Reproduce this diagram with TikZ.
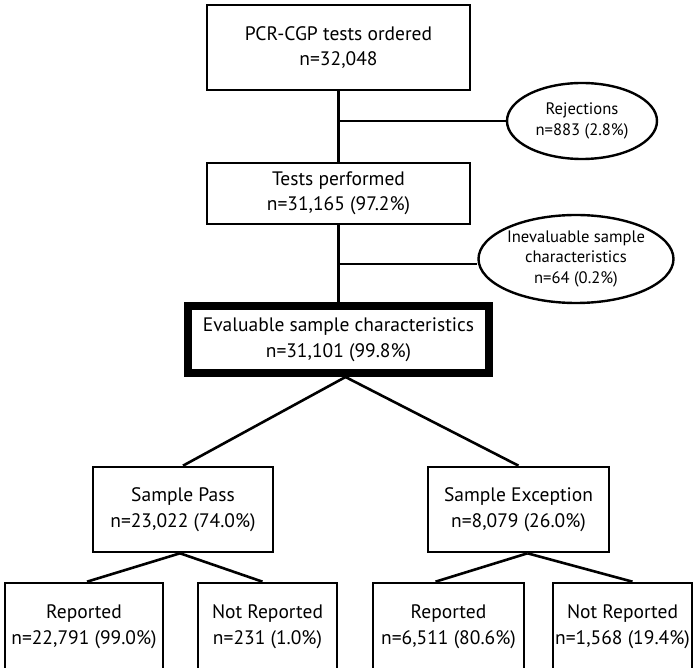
\documentclass[tikz,border=0pt]{standalone}
\usepackage{fontspec}
\setmainfont{PT Sans}
\usetikzlibrary{shapes.geometric,calc}
\begin{document}
\begin{tikzpicture}[x=1pt,y=-1pt,
  box/.style={draw,line width=2.6pt,rectangle,inner sep=0pt,align=center,
    font=\fontsize{19.5}{25.5}\selectfont},
  oval/.style={draw,line width=2.4pt,ellipse,inner sep=0pt,align=center,
    font=\fontsize{16.6}{20.5}\selectfont},
  link/.style={line width=2.6pt}]
\useasboundingbox (0,0) rectangle (697,668);
\node[box,minimum width=263pt,minimum height=85pt] (b1) at (338.5,47.5)
  {PCR-CGP tests ordered\\n=32,048};
\node[box,minimum width=263pt,minimum height=61pt] (b2) at (338.5,193.5)
  {Tests performed\\n=31,165 (97.2\%)};
\node[box,line width=8pt,minimum width=301pt,minimum height=67pt] (b3) at (338.5,339.5)
  {Evaluable sample characteristics\\n=31,101 (99.8\%)};
\node[oval,minimum width=150pt,minimum height=76pt] (rej) at (582,121)
  {Rejections\\n=883 (2.8\%)};
\node[oval,minimum width=182pt,minimum height=88pt] (inev) at (576,259)
  {Inevaluable sample\\characteristics\\n=64 (0.2\%)};
\node[box,minimum width=180pt,minimum height=85pt] (sp) at (183,509.5)
  {Sample Pass\\n=23,022 (74.0\%)};
\node[box,minimum width=181pt,minimum height=85pt] (se) at (518.5,509.5)
  {Sample Exception\\n=8,079 (26.0\%)};
\node[box,minimum width=158pt,minimum height=87pt] (r1) at (84,626.5)
  {Reported\\n=22,791 (99.0\%)};
\node[box,minimum width=139pt,minimum height=87pt] (nr1) at (267.5,626.5)
  {Not Reported\\n=231 (1.0\%)};
\node[box,minimum width=151pt,minimum height=87pt] (r2) at (448.5,626.5)
  {Reported\\n=6,511 (80.6\%)};
\node[box,minimum width=139pt,minimum height=87pt] (nr2) at (622.5,626.5)
  {Not Reported\\n=1,568 (19.4\%)};
\draw[link] (b1.south) -- (b2.north);
\draw[link] (b2.south) -- (b3.north);
\draw[link] (b1.south |- rej.west) -- (rej.west);
\coordinate (ij) at ($(inev.west)+(0,5)$);
\draw[link] (b2.south |- ij) -- (ij);
\coordinate (b3o) at ($(b3.south)+(7,0)$);
\draw[link] (b3o) -- (sp.north);
\draw[link] (b3o) -- (se.north);
\draw[link] ($(sp.south)+(-3,0)$) -- ($(r1.north)+(3,0)$);
\draw[link] ($(sp.south)+(-3,0)$) -- ($(nr1.north)+(-5,0)$);
\draw[link] ($(se.south)+(9,0)$) -- ($(r2.north)+(-13,0)$);
\draw[link] ($(se.south)+(9,0)$) -- ($(nr2.north)+(10,0)$);
\end{tikzpicture}
\end{document}
